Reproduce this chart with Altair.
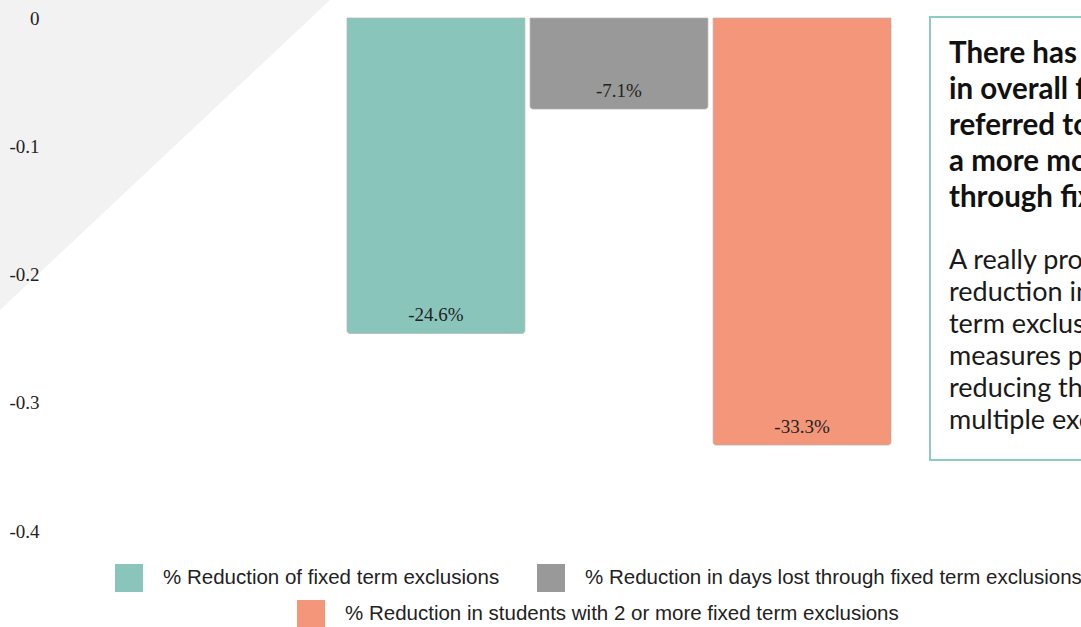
import math

import altair as alt
import pandas as pd

# ---- data -----------------------------------------------------------------
categories = [
    "% Reduction of fixed term exclusions",
    "% Reduction in days lost through fixed term exclusions",
    "% Reduction in students with 2 or more fixed term exclusions",
]
values = [-0.246, -0.071, -0.333]
colors = ["#8ac5bc", "#999999", "#f3967a"]
y_ticks = [0, -0.1, -0.2, -0.3, -0.4]

headline = [
    "There has been a 24.6% reduction",
    "in overall fixed term exclusions for",
    "referred to students, together with",
    "a more modest reduction in days lost",
    "through fixed term exclusions.",
]
body = [
    "A really promising 33.3%",
    "reduction in students with 2+ fixed",
    "term exclusions suggests the",
    "measures put in place are",
    "reducing the number of students with",
    "multiple exclusions.",
]

df = pd.DataFrame({"category": categories, "value": values})
df["label"] = [f"{v * 100:.1f}%" for v in values]

# ---- shared encodings -----------------------------------------------------
W, H = 1081, 627

x_enc = alt.X(
    "category:N",
    scale=alt.Scale(domain=categories, range=[347, 891], paddingInner=0.028, paddingOuter=0),
    axis=None,
)
y_axis = alt.Axis(
    values=y_ticks,
    labelExpr="datum.value + ''",
    ticks=False,
    domain=False,
    grid=False,
    offset=-41,
    labelPadding=2,
    labelFont="Liberation Serif",
    labelFontSize=19,
    labelColor="#222222",
    title=None,
    zindex=2,
)
y_enc = alt.Y(
    "value:Q",
    stack=None,
    scale=alt.Scale(domain=[-0.4, 0], range=[531, 18], nice=False, zero=True),
    axis=y_axis,
)


def legend_at(x, y):
    return alt.Legend(
        orient="none",
        legendX=x,
        legendY=y,
        direction="horizontal",
        title=None,
        symbolType="square",
        symbolSize=784,
        symbolStrokeWidth=0,
        symbolOpacity=1,
        labelFont="Liberation Sans",
        labelFontSize=20.5,
        labelColor="#222222",
        labelOffset=20,
        labelLimit=1000,
        columnPadding=37,
        padding=0,
    )


# ---- light corner wedge behind the axis (a wide rule along the diagonal) --
ax_, by_ = 330, 310
diag = math.hypot(ax_, by_)
dx, dy = -ax_ / diag, by_ / diag
nx, ny = -by_ / diag, -ax_ / diag
band = 700
cx, cy = ax_ + nx * band / 2, ny * band / 2
ext = 800
wedge = (
    alt.Chart(alt.Data(values=[{}]))
    .mark_rule(color="#f2f2f2", strokeWidth=band, strokeCap="butt")
    .encode(
        x=alt.value(cx - dx * ext),
        y=alt.value(cy - dy * ext),
        x2=alt.value(cx + dx * ext),
        y2=alt.value(cy + dy * ext),
    )
)

# ---- bars (two groups so the legend can wrap onto a centred second row) ---
bar_style = dict(
    cornerRadiusBottomLeft=3,
    cornerRadiusBottomRight=3,
    stroke="#b5b5b5",
    strokeWidth=1,
    strokeOpacity=0.7,
)

bars_a = (
    alt.Chart(df.iloc[:2])
    .mark_bar(**bar_style)
    .encode(
        x=x_enc,
        y=y_enc,
        color=alt.Color(
            "category:N",
            scale=alt.Scale(domain=categories[:2], range=colors[:2]),
            legend=legend_at(115, 564),
        ),
    )
)
bars_b = (
    alt.Chart(df.iloc[2:])
    .mark_bar(**bar_style)
    .encode(
        x=x_enc,
        y=y_enc,
        color=alt.Color(
            "category:N",
            scale=alt.Scale(domain=categories[2:], range=colors[2:]),
            legend=legend_at(297, 600),
        ),
    )
)

labels = (
    alt.Chart(df)
    .mark_text(font="Liberation Serif", fontSize=19, color="#222222", baseline="middle", dy=-18)
    .encode(x=x_enc, y=y_enc, text="label:N")
)

# ---- commentary panel on the right ----------------------------------------
panel = (
    alt.Chart(alt.Data(values=[{}]))
    .mark_rect(fill="white", stroke="#8ecbc2", strokeWidth=2)
    .encode(x=alt.value(930), x2=alt.value(1110), y=alt.value(17), y2=alt.value(460))
)
panel_head = (
    alt.Chart(alt.Data(values=[{}]))
    .mark_text(
        text=headline,
        align="left",
        baseline="alphabetic",
        font="Lato",
        fontWeight="bold",
        fontSize=29.5,
        lineHeight=36,
        color="#111111",
    )
    .encode(x=alt.value(949), y=alt.value(63))
)
panel_body = (
    alt.Chart(alt.Data(values=[{}]))
    .mark_text(
        text=body,
        align="left",
        baseline="alphabetic",
        font="Lato",
        fontSize=27,
        lineHeight=32,
        color="#1a1a1a",
    )
    .encode(x=alt.value(949), y=alt.value(269))
)

chart = (
    alt.layer(wedge, bars_a, bars_b, labels, panel, panel_head, panel_body)
    .resolve_scale(color="independent")
    .properties(
        width=W,
        height=H,
        padding=0,
        autosize=alt.AutoSizeParams(type="none"),
        background="white",
    )
    .configure_view(strokeWidth=0)
)

chart.save("out.html", embed_options={"renderer": "svg", "actions": False})
